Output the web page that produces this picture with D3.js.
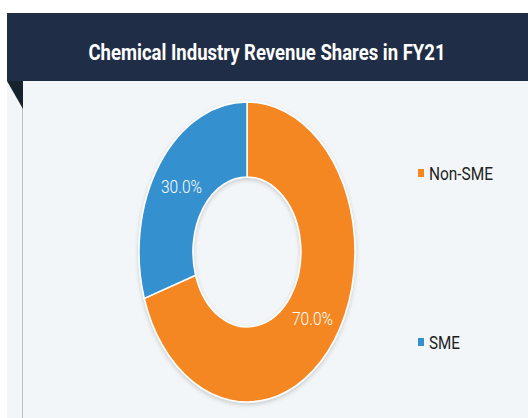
<!DOCTYPE html>
<html>
<head>
<meta charset="utf-8">
<script src="https://cdn.jsdelivr.net/npm/d3@7"></script>
<style>
  body { margin: 0; background: #fff; }
  svg { display: block; }
</style>
</head>
<body>
<div id="chart"></div>
<script>
// data
var title = "Chemical Industry Revenue Shares in FY21";
var categories = ["Non-SME", "SME"];
var shares = [70.0, 30.0];
var colors = ["#f48721", "#3590d0"];

var W = 528, H = 418;

var svg = d3.select("#chart")
    .append("svg")
        .attr("width", W)
        .attr("height", H);

var defs = svg.append("defs");
var shadow = defs.append("filter")
    .attr("id", "shadow")
    .attr("x", "-20%").attr("y", "-20%")
    .attr("width", "140%").attr("height", "140%");
shadow.append("feDropShadow")
    .attr("dx", 0).attr("dy", 2)
    .attr("stdDeviation", 2)
    .attr("flood-color", "#000")
    .attr("flood-opacity", 0.18);

// panel + header
svg.append("rect")
    .attr("x", 7).attr("y", 81)
    .attr("width", W - 7).attr("height", H - 81)
    .attr("fill", "#f3f6f8");

svg.append("line")
    .attr("x1", 22.5).attr("x2", 22.5)
    .attr("y1", 81).attr("y2", H)
    .attr("stroke", "#b9c0c6")
    .attr("stroke-width", 1);

svg.append("rect")
    .attr("x", 7).attr("y", 13)
    .attr("width", W - 7).attr("height", 68)
    .attr("fill", "#1f2e46");

svg.append("path")
    .attr("d", "M7,81 L23,81 L23,109 Z")
    .attr("fill", "#17232c");

svg.append("text")
    .attr("x", 267)
    .attr("y", 60)
    .attr("text-anchor", "middle")
    .attr("fill", "#ffffff")
    .style("font-family", "Roboto, sans-serif")
    .style("font-weight", "bold")
    .style("font-size", "22px")
    .attr("textLength", 357)
    .attr("lengthAdjust", "spacingAndGlyphs")
    .text(title);

// donut (drawn on a unit circle, then stretched into an ellipse)
var cx = 247, cy = 252, rx = 108, ry = 150;

var data = categories.map(function (c, i) {
    return { name: c, value: shares[i], color: colors[i] };
});

var pie = d3.pie()
    .sort(null)
    .value(function (d) { return d.value; });

var arc = d3.arc()
    .innerRadius(0.5)
    .outerRadius(1);

var labelArc = d3.arc()
    .innerRadius(0.75)
    .outerRadius(0.75);

var arcs = pie(data);

var donut = svg.append("g")
    .attr("filter", "url(#shadow)")
    .append("g")
        .attr("transform", "translate(" + cx + "," + cy + ") scale(" + rx + "," + ry + ")");

donut.selectAll("path")
    .data(arcs)
    .enter()
    .append("path")
        .attr("d", arc)
        .attr("fill", function (d) { return d.data.color; })
        .attr("stroke", "#ffffff")
        .attr("stroke-width", 1.5)
        .attr("vector-effect", "non-scaling-stroke");

svg.selectAll(".slice-label")
    .data(arcs)
    .enter()
    .append("text")
        .attr("class", "slice-label")
        .attr("x", function (d) { return cx + labelArc.centroid(d)[0] * rx; })
        .attr("y", function (d) { return cy + labelArc.centroid(d)[1] * ry; })
        .attr("dy", "0.35em")
        .attr("text-anchor", "middle")
        .attr("fill", "#ffffff")
        .style("font-family", "Roboto, sans-serif")
        .style("font-weight", 300)
        .style("font-size", "19px")
        .attr("textLength", 41)
        .attr("lengthAdjust", "spacingAndGlyphs")
        .text(function (d) { return d.data.value.toFixed(1) + "%"; });

// legend
var legendY = [173, 342];
var legendW = [64, 31];

var legend = svg.selectAll(".legend")
    .data(data)
    .enter()
    .append("g")
        .attr("class", "legend")
        .attr("transform", function (d, i) { return "translate(418," + legendY[i] + ")"; });

legend.append("rect")
    .attr("x", 0).attr("y", -4)
    .attr("width", 6).attr("height", 8)
    .attr("fill", function (d) { return d.color; });

legend.append("text")
    .attr("x", 11)
    .attr("y", 0)
    .attr("dy", "0.35em")
    .attr("fill", "#1e1e1e")
    .style("font-family", "Roboto, sans-serif")
    .style("font-size", "19px")
    .attr("textLength", function (d, i) { return legendW[i]; })
    .attr("lengthAdjust", "spacingAndGlyphs")
    .text(function (d) { return d.name; });
</script>
</body>
</html>
